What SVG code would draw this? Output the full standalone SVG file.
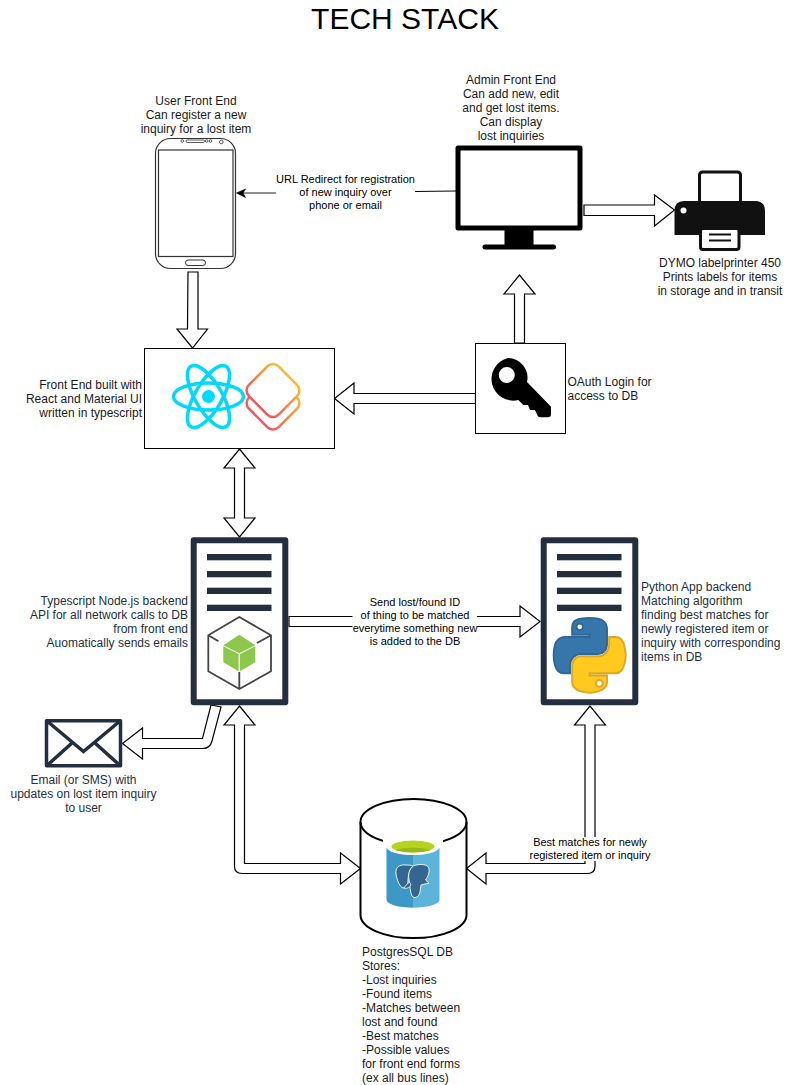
<svg xmlns="http://www.w3.org/2000/svg" width="811" height="1085" viewBox="0 0 811 1085">
<style>
text{font-family:"Liberation Sans",Arial,sans-serif;font-size:12px;fill:#1a1a1a}
.title{font-size:30px;fill:#000;text-anchor:middle}
.m{text-anchor:middle}.e{text-anchor:end}
.el{font-size:11px;text-anchor:middle;fill:#000}
.dk{fill:#232f3e}
.ar{fill:#fff;stroke:#000;stroke-width:1.200;stroke-linejoin:miter}
.sv{fill:#fff;stroke:#232f3e;stroke-width:6;stroke-linejoin:round}
.bar{fill:#232f3e}
</style>
<defs>
<linearGradient id="mg" x1=".5" y1="0" x2=".5" y2="1"><stop offset="0" stop-color="#fdb92c"/><stop offset="1" stop-color="#ef5661"/></linearGradient>
</defs>
<rect width="811" height="1085" fill="#fff"/>
<text class="title" x="405" y="29">TECH STACK</text>

<g id="connectors">
<path d="M456 191 L415 191.500" fill="none" stroke="#000" stroke-width="1"/>
<path d="M276 193 L243 193" fill="none" stroke="#222" stroke-width="1.200"/>
<path d="M245.500 189 L236.500 193 L245.500 197.500 L243 193 Z" fill="#000" stroke="#000" stroke-width=".6"/>
<path id="c-phone-front" class="ar" d="M188 272 H198 V329 H207.500 L192.500 348 L177 329 H187.500 Z"/>
<path id="c-monitor-printer" class="ar" d="M584 205 H654.500 V195 L674.500 210 L654.500 226 V215.500 H584 Z"/>
<path id="c-key-monitor" class="ar" d="M514.500 343 V294 H504 L519.500 275 L535 294 H524.500 V343 Z"/>
<path id="c-key-front" class="ar" d="M475.500 393.500 H354 V383 L334.500 398.500 L354 414 V403.500 H475.500 Z"/>
<path id="c-front-node" class="ar" d="M239.500 449 L255 468 H244.500 V518 H255 L239.500 537 L224 518 H234.500 V468 H224 Z"/>
<path id="c-node-python" class="ar" d="M289 616.500 H520 V606 L540 621.500 L520 637 V626.500 H289 Z"/>
<path id="c-node-email" class="ar" d="M211 705 L221 707 L212 741 Q210 748.500 203 748.500 H142.500 V759 L122.500 743.500 L142.500 728 V738.500 H202.500 Z"/>
<path id="c-node-db" class="ar" d="M239.500 706 L255 725 H244.500 V863.500 H340.500 V853 L360.500 868.500 L340.500 884 V873.500 H242 Q234.500 873.500 234.500 866 V725 H224 Z"/>
<path id="c-db-python" class="ar" d="M466.500 868.500 L486 853 V863.500 H585 V725 H574.500 L590 706 L605.500 725 H595 V866 Q595 873.500 587.500 873.500 H486 V884 Z"/>
</g>
<rect x="276" y="172" width="139" height="41" fill="#fff"/>
<text class="el" x="345.500" y="183">URL Redirect for registration</text>
<text class="el" x="345.500" y="196">of new inquiry over</text>
<text class="el" x="345.500" y="209">phone or email</text>
<rect x="352.500" y="596" width="124.500" height="52" fill="#fff"/>
<text class="el" x="415" y="606">Send lost/found ID</text>
<text class="el" x="415" y="619">of thing to be matched</text>
<text class="el" x="415" y="632">everytime something new</text>
<text class="el" x="415" y="645">is added to the DB</text>
<rect x="529" y="837" width="122" height="24" fill="#fff"/>
<text class="el" x="590" y="846">Best matches for newly</text>
<text class="el" x="590" y="859">registered item or inquiry</text>

<g id="phone">
<rect x="155.500" y="138.500" width="80" height="130" rx="15" fill="#fff" stroke="#333" stroke-width="1.200"/>
<rect x="158.500" y="150" width="74.500" height="106.500" fill="#fff" stroke="#333" stroke-width="1.200"/>
<rect x="185.500" y="260" width="20" height="5.500" rx="2.700" fill="#fff" stroke="#333" stroke-width="1"/>
<rect x="186" y="140" width="18.500" height="2.500" rx="1.200" fill="#fff" stroke="#333" stroke-width=".8"/>
<circle cx="182.300" cy="141" r="1.300" fill="#fff" stroke="#333" stroke-width=".8"/>
<circle cx="206.700" cy="141" r="1.300" fill="#fff" stroke="#333" stroke-width=".8"/>
<circle cx="210.500" cy="141" r="1.300" fill="#fff" stroke="#333" stroke-width=".8"/>
<circle cx="221.300" cy="142" r="1.800" fill="#fff" stroke="#333" stroke-width=".8"/>
<text class="m" x="196" y="105">User Front End</text>
<text class="m" x="196" y="119">Can register a new</text>
<text class="m" x="196" y="133">inquiry for a lost item</text>
</g>

<g id="monitor">
<rect x="458" y="148" width="122" height="80" fill="#fff" stroke="#000" stroke-width="5" stroke-linejoin="round"/>
<rect x="504.500" y="230" width="29" height="15"/>
<rect x="482.500" y="244.500" width="73.500" height="5" rx="2.500"/>
<text class="m" x="511" y="84">Admin Front End</text>
<text class="m" x="511" y="98">Can add new, edit</text>
<text class="m" x="511" y="112">and get lost items.</text>
<text class="m" x="511" y="126">Can display</text>
<text class="m" x="511" y="140">lost inquiries</text>
</g>

<g id="printer">
<rect x="699.500" y="172" width="41" height="40" rx="3" fill="#fff" stroke="#111" stroke-width="3"/>
<path d="M684 201 H755 Q765 201 765 211 V235 H674.500 V211 Q674.500 201 684 201 Z" fill="#111"/>
<circle cx="683.500" cy="210.500" r="3" fill="#fff"/>
<rect x="700.500" y="228.500" width="38.500" height="21" rx="2.500" fill="#fff" stroke="#111" stroke-width="3"/>
<rect x="709" y="233.500" width="22" height="2" fill="#111"/>
<rect x="709" y="239.500" width="22" height="2" fill="#111"/>
<text class="m" x="720" y="267">DYMO labelprinter 450</text>
<text class="m" x="720" y="281"> Prints labels for items</text>
<text class="m" x="720" y="295">in storage and in transit</text>
</g>

<g id="frontend">
<rect x="144.500" y="348.500" width="190" height="100" fill="#fff" stroke="#000" stroke-width="1"/>
<g fill="none" stroke="#00d8ff" stroke-width="3.500">
<ellipse cx="208.500" cy="396.500" rx="35" ry="13.500"/>
<ellipse cx="208.500" cy="396.500" rx="35" ry="13.500" transform="rotate(60 208.500 396.500)"/>
<ellipse cx="208.500" cy="396.500" rx="35" ry="13.500" transform="rotate(120 208.500 396.500)"/>
</g>
<circle cx="208.500" cy="396.500" r="6.500" fill="#00d8ff"/>
<rect x="-21" y="-21" width="42" height="42" rx="8" transform="translate(273 403) rotate(45)" fill="#fff" stroke="url(#mg)" stroke-width="2.500"/>
<rect x="-21" y="-21" width="42" height="42" rx="8" transform="translate(273 390.500) rotate(45)" fill="#fff" stroke="url(#mg)" stroke-width="2.500"/>
<text class="e" x="142" y="389">Front End built with</text>
<text class="e" x="142" y="403">React and Material UI</text>
<text class="e" x="142" y="417">written in typescript</text>
</g>

<g id="oauth">
<rect x="475.500" y="343.500" width="90" height="90" fill="#fff" stroke="#000" stroke-width="1"/>
<path fill-rule="evenodd" d="M508 358 A19.500 19.500 0 0 1 527 382 L531.700 386.700 L551 406.700 V414 Q551 417.300 548 417.300 H540 Q538 417.300 537.500 415.500 L535 410 H530 L528 405 H523.300 L518.300 400 A19.500 19.500 0 1 1 508 358 Z M506.700 367 A8 8 0 1 0 506.800 383 A8 8 0 1 0 506.700 367 Z"/>
<text x="567.500" y="386">OAuth Login for</text>
<text x="567.500" y="400">access to DB</text>
</g>

<g id="node-backend">
<rect class="sv" x="193.700" y="540.300" width="91.600" height="162"/>
<rect class="bar" x="207" y="554" width="64.500" height="6.300"/>
<rect class="bar" x="207" y="571" width="64.500" height="6.300"/>
<rect class="bar" x="207" y="587.700" width="64.500" height="6.300"/>
<rect class="bar" x="207" y="604.700" width="64.500" height="6.300"/>
<path d="M239.300 617 L271 635.300 V671.300 L239.300 689 L208.300 671.300 V635.300 Z M239.300 672 V689 M208.300 635.300 L218.500 641.300 M271 635.300 L257 643" fill="none" stroke="#444" stroke-width="1.800" stroke-linejoin="round"/>
<path d="M239.300 634.700 L255.300 645.300 L239.300 653.200 L223.300 645.300 Z" fill="#8cc84b"/>
<path d="M223.300 646.300 L238.600 654 V671.300 L223.300 662.300 Z" fill="#8cc84b"/>
<path d="M255.300 646.300 L240 654 V671.300 L255.300 662.300 Z" fill="#8cc84b"/>
<text class="dk e" x="188" y="605">Typescript Node.js backend</text>
<text class="dk e" x="188" y="619">API for all network calls to DB</text>
<text class="dk e" x="188" y="633">from front end</text>
<text class="dk e" x="188" y="647">Auomatically sends emails</text>
</g>

<g id="python-backend">
<rect class="sv" x="543.700" y="540.300" width="91.600" height="162"/>
<rect class="bar" x="557" y="554" width="64.500" height="6.300"/>
<rect class="bar" x="557" y="571" width="64.500" height="6.300"/>
<rect class="bar" x="557" y="587.700" width="64.500" height="6.300"/>
<rect class="bar" x="557" y="604.700" width="64.500" height="6.300"/>
<g transform="translate(553.500 618) scale(.65 .665)" fill-rule="evenodd" stroke-width="3">
<path fill="#3776ab" stroke="#2f6797" d="M54.919 .001C50.335 .022 45.958 .413 42.106 1.095 30.76 3.099 28.7 7.295 28.7 15.032V25.251H55.513V28.657H18.638C10.845 28.657 4.022 33.341 1.888 42.251-.574 52.464-.683 58.837 1.888 69.501 3.794 77.439 8.345 83.095 16.138 83.095H25.357V70.845C25.357 61.995 33.014 54.189 42.107 54.189H68.888C76.343 54.189 82.294 48.051 82.294 40.564V15.032C82.294 7.766 76.164 2.308 68.888 1.095 64.282 .328 59.502-.02 54.919 .001ZM40.419 8.220C43.188 8.220 45.450 10.519 45.450 13.345 45.450 16.161 43.188 18.439 40.419 18.439 37.639 18.439 35.388 16.161 35.388 13.345 35.388 10.519 37.639 8.220 40.419 8.220Z"/>
<path fill="#ffc91d" stroke="#d9a92a" d="M85.638 28.657V40.563C85.638 49.794 77.812 57.563 68.888 57.563H42.107C34.771 57.563 28.700 63.842 28.700 71.188V96.719C28.700 103.985 35.019 108.259 42.107 110.344 50.594 112.840 58.733 113.291 68.888 110.344 75.638 108.390 82.294 104.457 82.294 96.719V86.501H55.513V83.095H95.701C103.493 83.095 106.397 77.660 109.107 69.501 111.906 61.102 111.787 53.026 109.107 42.251 107.181 34.494 103.503 28.657 95.701 28.657ZM70.575 93.313C73.355 93.313 75.607 95.591 75.607 98.407 75.607 101.233 73.355 103.532 70.575 103.532 67.806 103.532 65.544 101.233 65.544 98.407 65.544 95.591 67.806 93.313 70.575 93.313Z"/>
</g>
<text class="dk" x="641" y="591">Python App backend</text>
<text class="dk" x="641" y="605">Matching algorithm</text>
<text class="dk" x="641" y="619">finding best matches for</text>
<text class="dk" x="641" y="633">newly registered item or</text>
<text class="dk" x="641" y="647">inquiry with corresponding</text>
<text class="dk" x="641" y="661">items in DB</text>
</g>

<g id="email">
<rect x="46.500" y="720.700" width="74" height="45" fill="#fff" stroke="#232f3e" stroke-width="3.500" stroke-linejoin="round"/>
<path d="M47 721 L83.500 751.500 L120 721 M47 765.500 L72 743 M120 765.500 L95 743" fill="none" stroke="#232f3e" stroke-width="3.500"/>
<text class="dk m" x="83.500" y="784">Email (or SMS) with</text>
<text class="dk m" x="83.500" y="798">updates on lost item inquiry</text>
<text class="dk m" x="83.500" y="812">to user</text>
</g>

<g id="database">
<path d="M360.500 822 A52.800 23 0 0 1 466.500 822 V915 A52.800 23 0 0 1 360.500 915 Z" fill="#fff" stroke="#000" stroke-width="2"/>
<path d="M360.500 822 A52.800 23 0 0 0 466.500 822" fill="none" stroke="#000" stroke-width="2"/>
<path d="M383 840 H443 V852 H383 Z" fill="#fff"/>
<ellipse cx="413" cy="846.500" rx="26.500" ry="8.500" fill="#fff"/>
<path d="M386.500 848 V900 A26.500 8 0 0 0 413 907.700 V848 Z" fill="#3b98c7"/>
<path d="M439.500 848 V900 A26.500 8 0 0 1 413 907.700 V848 Z" fill="#5cb4db"/>
<ellipse cx="413" cy="847" rx="26.500" ry="8" fill="#fff"/>
<ellipse cx="413" cy="846.500" rx="21.500" ry="6" fill="#b4d31d"/>
<path d="M395 850 Q404 847.800 413 847.800 Q422 847.800 431 850 Q422 852.500 413 852.500 Q404 852.500 395 850 Z" fill="#93ba1b"/>
<path d="M406 865 C399 864 395 868 396 874 C397 881 400 887 403 888 C406 888 407 885 408 882 C408 876 409 870 413 866 C411 865 408 865 406 865 Z" fill="#336791" stroke="#fff" stroke-width=".9"/>
<path d="M414 865.500 C419 864 425 864 428 866.500 C430.500 870 428.500 876 425.500 880 L429 883 L421 885 L420 892 C419 897.500 414 899 412 896 C410 892 410 885 409 880 C408 874 409 869 414 865.500 Z" fill="#336791" stroke="#fff" stroke-width=".9"/>
<path d="M404 888 C406 889 409 888 411 885 L409.500 882 C407 884 405 886 404 888 Z" fill="#336791" stroke="#fff" stroke-width=".8"/>
<text x="362" y="956">PostgresSQL DB</text>
<text x="362" y="970">Stores:</text>
<text x="362" y="984">-Lost inquiries</text>
<text x="362" y="998">-Found items</text>
<text x="362" y="1012">-Matches between</text>
<text x="362" y="1026">lost and found</text>
<text x="362" y="1040">-Best matches</text>
<text x="362" y="1054">-Possible values</text>
<text x="362" y="1068">for front end forms</text>
<text x="362" y="1082">(ex all bus lines)</text>
</g>
</svg>
